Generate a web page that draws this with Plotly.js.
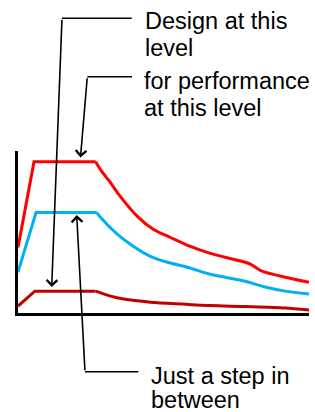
<!DOCTYPE html>
<html>
<head>
<meta charset="utf-8">
<script src="https://cdn.plot.ly/plotly-3.0.1.min.js"></script>
<style>html,body{margin:0;padding:0;background:#fff;}#chart{width:315px;height:412px;}</style>
</head>
<body>
<div id="chart"></div>
<script>
// Series (arbitrary units: x 0-100, y 0-100)
const xRed  = [0, 5.5, 26.7, 28.4, 31.8, 34.2, 41.1, 46.6, 52.4, 59.2, 66.1, 71.2, 78.1, 80.0, 83.9, 91.8, 100];
const yRed  = [40.5, 93.3, 93.3, 88.3, 80.4, 74.2, 59.5, 51.5, 46.6, 41.1, 36.8, 34.4, 31.3, 30.0, 25.8, 22.1, 19.0];
const xBlue = [0, 6.2, 27.1, 28.4, 34.2, 39.7, 45.5, 51.4, 58.2, 66.1, 71.2, 78.1, 84.9, 91.8, 100];
const yBlue = [25.2, 62.0, 62.0, 58.9, 48.5, 41.1, 35.0, 31.3, 28.2, 23.9, 22.1, 19.6, 16.0, 13.5, 11.7];
const xDark = [0, 5.8, 26.7, 31.8, 36.3, 45.5, 56.8, 66.1, 78.1, 91.8, 100];
const yDark = [4.3, 13.5, 13.5, 10.4, 8.6, 6.7, 5.5, 4.6, 4.0, 3.1, 1.8];

// Callout texts
const label1 = ["Design at this", "level"];
const label2 = ["for performance", "at this level"];
const label3 = ["Just a step in", "between"];

const W = 315, H = 412;
const px = v => v / W;
const py = v => (H - v) / H;

// each series: linear rise + plateau, then a smooth decay from the plateau end
function seriesTraces(xs, ys, color) {
  return [
    {x: xs.slice(0, 3), y: ys.slice(0, 3), mode: 'lines', line: {color: color, width: 3}},
    {x: xs.slice(2), y: ys.slice(2), mode: 'lines', line: {color: color, width: 3, shape: 'spline', smoothing: 0.8}}
  ];
}
const traces = [].concat(
  seriesTraces(xRed, yRed, '#FF0000'),
  seriesTraces(xBlue, yBlue, '#00B0F0'),
  seriesTraces(xDark, yDark, '#C00000')
);

const font = {family: 'Liberation Sans, Arial, sans-serif', size: 23.5, color: '#000'};
const annotations = [];
function addLines(lines, x, baselines) {
  lines.forEach((t, i) => {
    annotations.push({xref: 'paper', yref: 'paper', x: px(x), y: py(baselines[i] - 7),
      xanchor: 'left', yanchor: 'middle', text: t, showarrow: false, font: font, borderpad: 0});
  });
}
addLines(label1, 144, [28, 55]);
addLines(label2, 143, [88, 115]);
addLines(label3, 150, [383, 406.5]);

function addArrow(tipX, tipY, tailX, tailY) {
  annotations.push({xref: 'paper', yref: 'paper', x: px(tipX), y: py(tipY),
    axref: 'paper', ayref: 'paper', ax: px(tailX), ay: py(tailY),
    text: '', showarrow: true, arrowhead: 4, arrowsize: 1.3, arrowwidth: 1.6,
    arrowcolor: '#000', standoff: 0});
}
addArrow(51.7, 287, 62, 18.3);
addArrow(80.5, 157.5, 87.3, 76.7);
addArrow(76.7, 215, 85, 371.7);

const lineStyle = {color: '#000', width: 1.6};
const shapes = [
  {type: 'line', xref: 'paper', yref: 'paper', x0: px(62), y0: py(18.3), x1: px(131.7), y1: py(18.3), line: lineStyle},
  {type: 'line', xref: 'paper', yref: 'paper', x0: px(87.3), y0: py(76.7), x1: px(132), y1: py(76.7), line: lineStyle},
  {type: 'line', xref: 'paper', yref: 'paper', x0: px(85), y0: py(371.7), x1: px(138.3), y1: py(371.7), line: lineStyle}
];

const layout = {
  width: W, height: H,
  margin: {l: 0, r: 0, t: 0, b: 0},
  paper_bgcolor: '#fff', plot_bgcolor: '#fff',
  showlegend: false,
  xaxis: {domain: [px(18), px(309)], range: [0, 100], showline: true, linewidth: 3, linecolor: '#000',
          showgrid: false, zeroline: false, showticklabels: false, ticks: ''},
  yaxis: {domain: [py(313), py(151)], range: [0, 100], showline: true, linewidth: 3, linecolor: '#000',
          showgrid: false, zeroline: false, showticklabels: false, ticks: ''},
  annotations: annotations,
  shapes: shapes
};

Plotly.newPlot('chart', traces, layout, {staticPlot: true, displayModeBar: false});
</script>
</body>
</html>
